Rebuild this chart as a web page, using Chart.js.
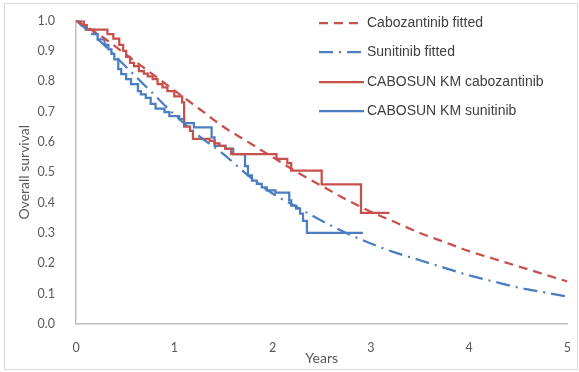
<!DOCTYPE html>
<html>
<head>
<meta charset="utf-8">
<script src="https://cdn.jsdelivr.net/npm/chart.js@4"></script>
<style>
  html, body { margin: 0; padding: 0; background: #fff; }
  #wrap { width: 579px; height: 372px; position: relative; }
</style>
</head>
<body>
<div id="wrap"><canvas id="chart" width="579" height="372"></canvas></div>
<script>
"use strict";

// fitted curves, read every 0.25 years
var fitYears = [0, 0.25, 0.5, 0.75, 1, 1.25, 1.5, 1.75, 2, 2.25, 2.5, 2.75, 3, 3.25, 3.5, 3.75, 4, 4.25, 4.5, 4.75, 5];
var caboFitted = [1.0, 0.95, 0.89, 0.83, 0.77, 0.71, 0.65, 0.60, 0.55, 0.50, 0.455, 0.41, 0.37, 0.335, 0.30, 0.27, 0.24, 0.215, 0.19, 0.165, 0.14];
var suniFitted = [1.0, 0.93, 0.85, 0.77, 0.69, 0.62, 0.56, 0.49, 0.43, 0.385, 0.34, 0.30, 0.265, 0.235, 0.21, 0.185, 0.16, 0.14, 0.12, 0.105, 0.09];

// Kaplan-Meier steps (time, survival after the event)
var caboKmYears = [0, 0.08, 0.11, 0.32, 0.38, 0.44, 0.48, 0.51, 0.55, 0.59, 0.64, 0.69, 0.73, 0.78, 0.83, 0.88, 0.93, 1.0, 1.08, 1.1, 1.16, 1.19, 1.36, 1.41, 1.46, 1.52, 1.58, 2.04, 2.15, 2.19, 2.5, 2.9, 3.19];
var caboKm = [1.0, 0.985, 0.97, 0.955, 0.94, 0.92, 0.9, 0.88, 0.86, 0.85, 0.833, 0.825, 0.816, 0.807, 0.79, 0.78, 0.767, 0.75, 0.73, 0.65, 0.636, 0.61, 0.603, 0.595, 0.587, 0.577, 0.56, 0.544, 0.53, 0.505, 0.46, 0.366, 0.366];
var suniKmYears = [0, 0.05, 0.1, 0.18, 0.22, 0.29, 0.33, 0.36, 0.39, 0.43, 0.46, 0.51, 0.56, 0.63, 0.66, 0.71, 0.76, 0.81, 0.9, 0.95, 1.05, 1.1, 1.2, 1.38, 1.41, 1.52, 1.6, 1.72, 1.75, 1.79, 1.84, 1.89, 1.94, 2.03, 2.17, 2.19, 2.24, 2.28, 2.31, 2.35, 2.92];
var suniKm = [1.0, 0.985, 0.97, 0.955, 0.938, 0.92, 0.905, 0.89, 0.872, 0.84, 0.823, 0.807, 0.79, 0.767, 0.757, 0.745, 0.725, 0.71, 0.698, 0.685, 0.675, 0.662, 0.648, 0.615, 0.587, 0.578, 0.56, 0.52, 0.49, 0.472, 0.462, 0.45, 0.44, 0.433, 0.407, 0.39, 0.38, 0.364, 0.34, 0.30, 0.30];

var seriesNames = ['Cabozantinib fitted', 'Sunitinib fitted', 'CABOSUN KM cabozantinib', 'CABOSUN KM sunitinib'];
var xTicks = [0, 1, 2, 3, 4, 5];

var red = '#C8504B';
var blue = '#4A7EC0';

function toPoints(xs, ys) {
	var pts = [];
	for (var i = 0; i < xs.length; i++) {
		pts.push({ x: xs[i], y: ys[i] });
	}
	return pts;
}

// legend drawn inside the plot, Excel style
var insideLegend = {
	id: 'insideLegend',
	afterDraw: function (chart) {
		var ctx = chart.ctx;
		var rows = [23, 52, 82, 111];
		ctx.save();
		chart.data.datasets.forEach(function (ds, i) {
			var y = rows[i];
			ctx.strokeStyle = ds.borderColor;
			ctx.lineWidth = 2.25;
			ctx.setLineDash(ds.borderDash || []);
			ctx.beginPath();
			ctx.moveTo(319, y);
			ctx.lineTo(364, y);
			ctx.stroke();
			ctx.setLineDash([]);
			ctx.fillStyle = '#404040';
			ctx.font = '14px "Liberation Sans", Arial, sans-serif';
			ctx.textBaseline = 'middle';
			ctx.fillText(ds.label, 367, y);
		});
		// outer frame
		ctx.strokeStyle = '#d9d9d9';
		ctx.lineWidth = 1;
		ctx.strokeRect(4.5, 3.5, 573, 366);
		ctx.restore();
	}
};

const ctx = document.getElementById('chart');
const myChart = new Chart(ctx, {
	type: 'line',
	data: {
		datasets: [{
			label: seriesNames[0],
			data: toPoints(fitYears, caboFitted),
			borderColor: red,
			borderWidth: 2.25,
			borderDash: [9, 6],
			pointRadius: 0,
			cubicInterpolationMode: 'monotone'
		}, {
			label: seriesNames[1],
			data: toPoints(fitYears, suniFitted),
			borderColor: blue,
			borderWidth: 2.25,
			borderDash: [14, 6, 2, 6],
			pointRadius: 0,
			cubicInterpolationMode: 'monotone'
		}, {
			label: seriesNames[2],
			data: toPoints(caboKmYears, caboKm),
			borderColor: red,
			borderWidth: 2.25,
			pointRadius: 0,
			stepped: true
		}, {
			label: seriesNames[3],
			data: toPoints(suniKmYears, suniKm),
			borderColor: blue,
			borderWidth: 2.25,
			pointRadius: 0,
			stepped: true
		}]
	},
	options: {
		responsive: false,
		animation: false,
		layout: { padding: { left: 0, top: 19, right: 11, bottom: 0 } },
		plugins: {
			legend: { display: false },
			tooltip: { enabled: false }
		},
		scales: {
			x: {
				type: 'linear',
				min: 0,
				max: 5,
				afterBuildTicks: function (scale) {
					scale.ticks = xTicks.map(function (v) { return { value: v }; });
				},
				grid: { display: false },
				border: { display: true, color: '#bfbfbf', width: 1.5 },
				ticks: {
					color: '#595959',
					padding: 8,
					font: { family: 'Lato, "Liberation Sans", sans-serif', size: 12.5 }
				},
				title: {
					display: true,
					text: 'Years',
					color: '#595959',
					padding: { top: 0, bottom: 5 },
					font: { family: 'Lato, "Liberation Sans", sans-serif', size: 14 }
				},
				afterFit: function (scale) { scale.height = 48; }
			},
			y: {
				min: 0,
				max: 1,
				ticks: {
					stepSize: 0.1,
					color: '#595959',
					padding: 13,
					font: { family: 'Lato, "Liberation Sans", sans-serif', size: 12.5 },
					callback: function (v) { return v.toFixed(1); }
				},
				grid: { display: false },
				border: { display: true, color: '#bfbfbf', width: 1.5 },
				title: {
					display: true,
					text: 'Overall survival',
					color: '#595959',
					padding: { top: 16, bottom: 0 },
					font: { family: 'Lato, "Liberation Sans", sans-serif', size: 14 }
				},
				afterFit: function (scale) { scale.width = 76; }
			}
		}
	},
	plugins: [insideLegend]
});
</script>
</body>
</html>
